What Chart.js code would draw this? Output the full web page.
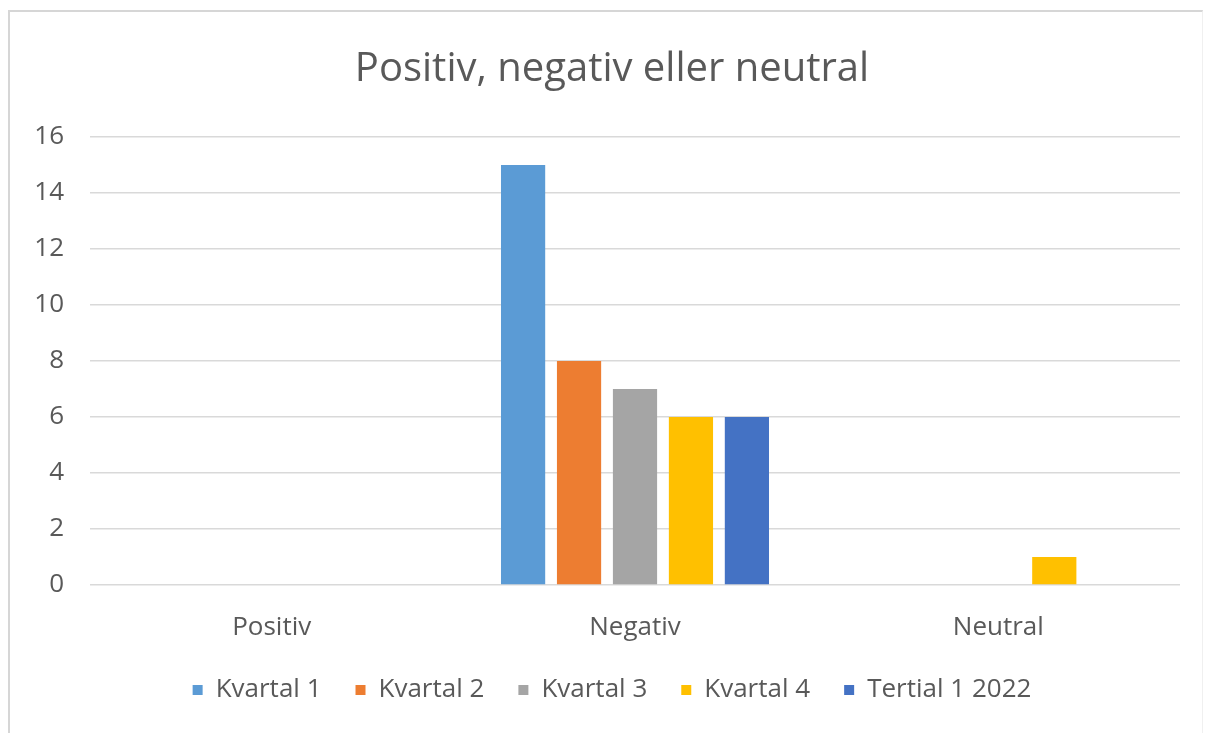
<!DOCTYPE html>
<html lang="sv">
<head>
    <meta charset="UTF-8">
    <title>Positiv, negativ eller neutral</title>
    <script src="https://cdn.jsdelivr.net/npm/chart.js"></script>
    <style>
        html, body {
            margin: 0;
            padding: 0;
            background: #ffffff;
            overflow: hidden;
        }

        #frame {
            position: absolute;
            left: 8px;
            top: 10px;
            width: 1192px;
            height: 730px;
            border-left: 2px solid #d6d6d6;
            border-top: 2px solid #d6d6d6;
            border-right: 1px solid #f0f0f0;
        }

        /* a bit wider than the window so title and legend sit centred over the frame */
        #wrap {
            position: absolute;
            left: 0;
            top: 0;
            width: 1224px;
            height: 733px;
        }
    </style>
</head>
<body>
    <div id="frame"></div>
    <div id="wrap"><canvas id="chart"></canvas></div>
    <script>
        const categories = ["Positiv", "Negativ", "Neutral"];
        const kvartal1 = [0, 15, 0];
        const kvartal2 = [0, 8, 0];
        const kvartal3 = [0, 7, 0];
        const kvartal4 = [0, 6, 1];
        const tertial2022 = [0, 6, 0];

        const textColor = "#595959";
        const gridColor = "#d9d9d9";
        const fontFamily = "'Open Sans', 'Noto Sans', sans-serif";
        const tickFont = { family: fontFamily, size: 26 };

        function series(label, data, color) {
            return {
                label: label,
                data: data,
                backgroundColor: color,
                borderWidth: 0,
                barPercentage: 0.79,
                categoryPercentage: 0.77
            };
        }

        new Chart(document.getElementById("chart"), {
            type: "bar",
            data: {
                labels: categories,
                datasets: [
                    series("Kvartal 1", kvartal1, "#5b9bd5"),
                    series("Kvartal 2", kvartal2, "#ed7d31"),
                    series("Kvartal 3", kvartal3, "#a5a5a5"),
                    series("Kvartal 4", kvartal4, "#ffc000"),
                    series("Tertial 1 2022", tertial2022, "#4472c4")
                ]
            },
            options: {
                responsive: true,
                maintainAspectRatio: false,
                animation: false,
                layout: {
                    padding: { left: 0, right: 0, top: 12, bottom: 20 }
                },
                plugins: {
                    tooltip: { enabled: false },
                    title: {
                        display: true,
                        text: "Positiv, negativ eller neutral",
                        color: textColor,
                        font: { family: fontFamily, size: 40, weight: "normal" },
                        padding: { top: 34, bottom: 43 }
                    },
                    legend: {
                        position: "bottom",
                        labels: {
                            color: textColor,
                            font: { family: fontFamily, size: 26 },
                            boxWidth: 10,
                            boxHeight: 10,
                            padding: 34
                        }
                    }
                },
                scales: {
                    x: {
                        grid: { display: false, drawTicks: false },
                        border: { display: false },
                        ticks: { color: textColor, font: tickFont, padding: 27 },
                        afterFit(scale) { scale.height = 58; }
                    },
                    y: {
                        min: 0,
                        max: 16,
                        grid: { color: gridColor, lineWidth: 1.5, drawTicks: false },
                        border: { display: false },
                        ticks: { stepSize: 2, color: textColor, font: tickFont, padding: 26 },
                        afterFit(scale) { scale.width = 90; }
                    },
                    // empty right-hand axis, only keeps space to the right of the plot
                    spacer: {
                        type: "linear",
                        position: "right",
                        display: true,
                        grid: { display: false, drawTicks: false },
                        border: { display: false },
                        ticks: { display: false },
                        afterFit(scale) { scale.width = 44; }
                    }
                }
            }
        });
    </script>
</body>
</html>
